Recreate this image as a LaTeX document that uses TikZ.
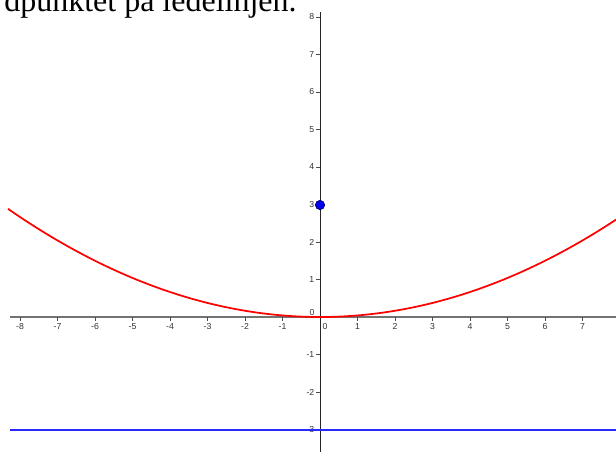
\documentclass[tikz,border=0pt]{standalone}
\usepackage{fontspec}
\setmainfont{Liberation Serif}
\newfontfamily\labfont{Liberation Sans}
\begin{document}
\begin{tikzpicture}[x=0.75pt,y=-0.75pt,
  axisx/.style={draw=black!55,line width=1.1pt},
  axisy/.style={draw=black!85,line width=0.75pt},
  ticklab/.style={font=\labfont\fontsize{6.5}{7.5}\selectfont,text=black!80,inner sep=0pt},
  tickmark/.style={draw=black!70,line width=0.6pt},
  curve/.style={draw=red,line width=1.3pt},
  directrix/.style={draw={rgb,255:red,40;green,40;blue,255},line width=1.4pt},
  dot/.style={circle,fill={rgb,255:red,0;green,0;blue,240},draw={rgb,255:red,0;green,0;blue,110},line width=0.5pt,minimum size=7pt,inner sep=0pt},
  titletext/.style={anchor=base west,inner sep=0pt,font=\fontsize{24}{28}\selectfont}]
\useasboundingbox (0,0) rectangle (616,452);
\clip (0,0) rectangle (616,452);
\fill[white] (0,0) rectangle (616,452);
% title
\node[titletext] (title) at (4,11.5) {dpunktet på ledelinjen.};
% axes
\coordinate (xL) at (10,317);
\coordinate (xR) at (616,317);
\coordinate (yT) at (320,12);
\coordinate (yB) at (320,452);
\draw[axisx] (xL) -- (xR);
\draw[axisy] (yT) -- (yB);
% x ticks
\foreach \i in {-8,-7,-6,-5,-4,-3,-2,-1,1,2,3,4,5,6,7} {
  \draw[tickmark] ({320+37.5*\i},317) -- ({320+37.5*\i},320.5);
  \node[ticklab,anchor=base] (xl\i) at ({320+37.5*\i},329) {\i};
}
\node[ticklab,anchor=base] (xl0) at (325,329) {0};
% y ticks
\foreach \j in {-3,-2,-1,1,2,3,4,5,6,7,8} {
  \draw[tickmark] (316,{317-37.5*\j}) -- (320,{317-37.5*\j});
  \node[ticklab,anchor=base east] (yl\j) at (314.5,{320-37.5*\j}) {\j};
}
\node[ticklab,anchor=base] (yl0) at (312,315) {0};
% directrix
\coordinate (dL) at (10,430);
\coordinate (dR) at (616,430);
\draw[directrix] (dL) -- (dR);
% parabola
\draw[curve] plot[domain=-8.32:7.98,samples=120,smooth] ({320+37.5*\x},{317-37.5*\x*\x/24});
% focus point
\node[dot] (F) at (320,205) {};
\end{tikzpicture}
\end{document}
